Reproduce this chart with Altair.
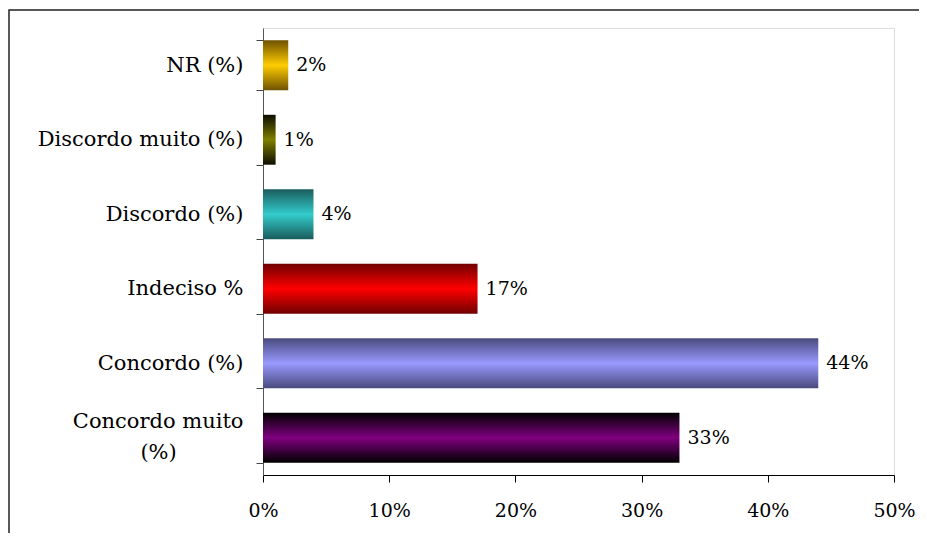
import altair as alt
import pandas as pd

categories = ["NR (%)", "Discordo muito (%)", "Discordo (%)", "Indeciso %", "Concordo (%)", "Concordo muito (%)"]
values = [0.02, 0.01, 0.04, 0.17, 0.44, 0.33]
value_labels = ["2%", "1%", "4%", "17%", "44%", "33%"]
edge_colors = ["#6e5200", "#0d0d00", "#1a5c5c", "#700000", "#4a4a7e", "#000000"]
mid_colors = ["#ffcc00", "#7f7f00", "#33cccc", "#ff0000", "#9999ff", "#800080"]
x_ticks = [0, 0.1, 0.2, 0.3, 0.4, 0.5]

NB = "\u00a0"
ZW = "\u200b"
df = pd.DataFrame({"cat": categories, "val": values, "lab": value_labels})

FONT = "DejaVu Serif"
CAT_SIZE = 21
NUM_SIZE = 19

y_enc = alt.Y(
    "cat:N",
    sort=categories,
    scale=alt.Scale(paddingInner=0.33, paddingOuter=0.165),
    axis=alt.Axis(
        title=None,
        tickBand="extent",
        ticks=True,
        tickSize=7,
        tickColor="#444444",
        domainColor="#555555",
        labelFont=FONT,
        labelFontSize=CAT_SIZE,
        labelColor="black",
        labelPadding=13,
        labelLimit=400,
        labelExpr="datum.label == 'Concordo muito (%)' ? ['Concordo muito', '(%)" + NB * 10 + ZW + "'] : datum.label",
        labelLineHeight=31,
        labelOffset={"condition": {"test": "datum.value == 'Concordo muito (%)'", "value": -16}, "value": 0},
    ),
)
x_enc = alt.X(
    "val:Q",
    scale=alt.Scale(domain=[0, 0.5], nice=False),
    axis=alt.Axis(
        title=None,
        values=x_ticks,
        format=".0%",
        grid=False,
        tickSize=7,
        tickColor="black",
        domainColor="black",
        labelFont=FONT,
        labelFontSize=NUM_SIZE,
        labelColor="black",
        labelPadding=19,
        labelFlush=False,
    ),
)

layers = []
for i, c in enumerate(categories):
    grad = alt.Gradient(
        gradient="linear",
        x1=0, x2=0, y1=0, y2=1,
        stops=[
            alt.GradientStop(color=edge_colors[i], offset=0),
            alt.GradientStop(color=mid_colors[i], offset=0.5),
            alt.GradientStop(color=edge_colors[i], offset=1),
        ],
    )
    layers.append(
        alt.Chart(df)
        .transform_filter(alt.datum.cat == c)
        .mark_bar(color=grad)
        .encode(x=x_enc, y=y_enc)
    )

text = alt.Chart(df).mark_text(
    align="left", baseline="middle", dx=8, font=FONT, fontSize=NUM_SIZE, color="black"
).encode(x=alt.X("val:Q", scale=alt.Scale(domain=[0, 0.5], nice=False)), y=alt.Y("cat:N", sort=categories), text="lab:N")

frame = alt.Chart(pd.DataFrame({"a": [0]})).mark_rect(
    fill="transparent", stroke="#222222", strokeWidth=1.5
).encode(
    x=alt.value(-254),
    x2=alt.value(720),
    y=alt.value(-18),
    y2=alt.value(620),
)

chart = alt.layer(frame, *layers, text).properties(
    width=631,
    height=447,
    autosize=alt.AutoSizeParams(type="none"),
    padding={"left": 255, "top": 20, "right": 25, "bottom": 58},
).configure_view(stroke=None).configure(background="white")

chart.save("out.html", embed_options={"renderer": "svg", "actions": False})
